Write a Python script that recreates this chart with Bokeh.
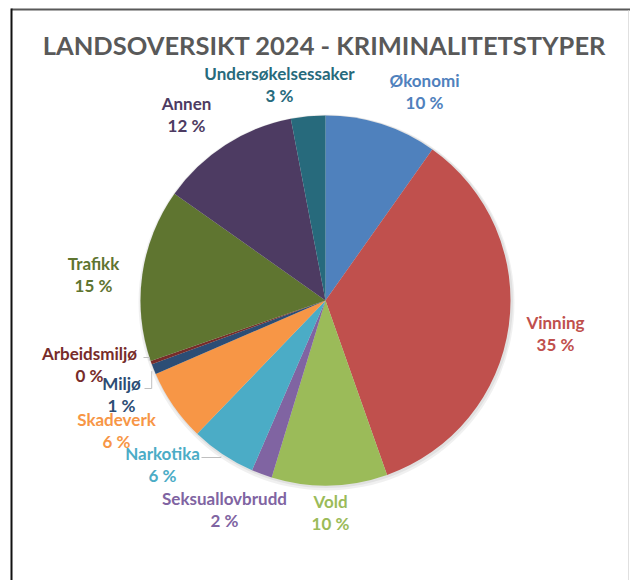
import math
from bokeh.plotting import figure
from bokeh.models import Range1d
from bokeh.core.properties import value
from bokeh.embed import file_html
from bokeh.resources import INLINE

# ---- data ----
categories = ["Økonomi", "Vinning", "Vold", "Seksuallovbrudd", "Narkotika",
              "Skadeverk", "Miljø", "Arbeidsmiljø", "Trafikk", "Annen",
              "Undersøkelsessaker"]
shares = [9.8, 34.8, 10.1, 1.8, 5.7, 6.3, 0.9, 0.3, 15.1, 12.2, 3.0]
colors = ["#4F81BD", "#C0504D", "#9BBB59", "#8064A2", "#4BACC6",
          "#F79646", "#2C4D75", "#772C2A", "#5F7530", "#4D3B62",
          "#276A7C"]
title_text = "LANDSOVERSIKT 2024 - KRIMINALITETSTYPER"

# ---- layout (page-pixel coordinates, y measured downward) ----
W, H = 630, 580
CX_IMG, CY_IMG = 325, 300
R = 185
label_img = {
    "Økonomi": (424, 80),
    "Vinning": (555, 322),
    "Vold": (330, 501),
    "Seksuallovbrudd": (224, 498),
    "Narkotika": (162, 453),
    "Skadeverk": (116, 419),
    "Miljø": (121, 383),
    "Arbeidsmiljø": (89, 353),
    "Trafikk": (93, 263),
    "Annen": (186, 103),
    "Undersøkelsessaker": (279, 73),
}
LINE_GAP = 22
FONT = "Lato"


def fy(y_img):
    return H - y_img


p = figure(width=W, height=H, output_backend="svg", toolbar_location=None,
           x_range=Range1d(0, W), y_range=Range1d(0, H), min_border=0)
p.axis.visible = False
p.grid.visible = False
p.outline_line_color = None
p.background_fill_color = "white"
p.border_fill_color = "white"

# frame lines of the chart area
p.segment(x0=[11], y0=[fy(9)], x1=[W], y1=[fy(9)], line_color="#595959", line_width=2)
p.segment(x0=[11], y0=[fy(8)], x1=[11], y1=[fy(H)], line_color="#111111", line_width=2)
p.segment(x0=[628], y0=[fy(10)], x1=[628], y1=[fy(H)], line_color="#E0E0E0", line_width=1)

CX, CY = CX_IMG, fy(CY_IMG)

# soft shadow
p.circle(x=[CX + 1], y=[CY - 2], radius=R + 3, fill_color="#000000", fill_alpha=0.06, line_color=None)
p.circle(x=[CX + 1], y=[CY - 1], radius=R + 1.5, fill_color="#000000", fill_alpha=0.06, line_color=None)

total = sum(shares)
cum = 0.0
starts, ends = [], []
for s in shares:
    starts.append(math.pi / 2 - 2 * math.pi * cum / total)
    cum += s
    ends.append(math.pi / 2 - 2 * math.pi * cum / total)

p.wedge(x=CX, y=CY, radius=R, start_angle=starts, end_angle=ends,
        direction="clock", fill_color=colors, line_color=None)


def edge_point(i):
    mid = (starts[i] + ends[i]) / 2
    return CX + R * math.cos(mid), CY + R * math.sin(mid)


# leader lines for the small slices
leaders = {"Arbeidsmiljø": (143, 357), "Miljø": (144, 388), "Narkotika": (201, 457)}
for name, (lx, ly) in leaders.items():
    i = categories.index(name)
    ex, ey = edge_point(i)
    p.line(x=[lx, ex - 2, ex - 2], y=[fy(ly), fy(ly), ey + (2 if fy(ly) > ey else -2)],
           line_color="#BFBFBF", line_width=1)

# title
p.text(x=[CX_IMG - 1], y=[fy(44)], text=[title_text], text_font=value(FONT),
       text_font_style="bold", text_font_size="25.5px", text_color="#595959",
       text_align="center", text_baseline="middle")

# labels
names_x = [label_img[c][0] for c in categories]
names_y = [fy(label_img[c][1]) for c in categories]
pct = [f"{round(s * 100 / total)} %" for s in shares]
p.text(x=names_x, y=names_y, text=categories, text_font=value(FONT),
       text_font_style="bold", text_font_size="17px", text_color=colors,
       text_align="center", text_baseline="middle")
p.text(x=names_x, y=names_y, y_offset=LINE_GAP, text=pct, text_font=value(FONT),
       text_font_style="bold", text_font_size="17px", text_color=colors,
       text_align="center", text_baseline="middle")

open("out.html", "w").write(file_html(p, INLINE))
